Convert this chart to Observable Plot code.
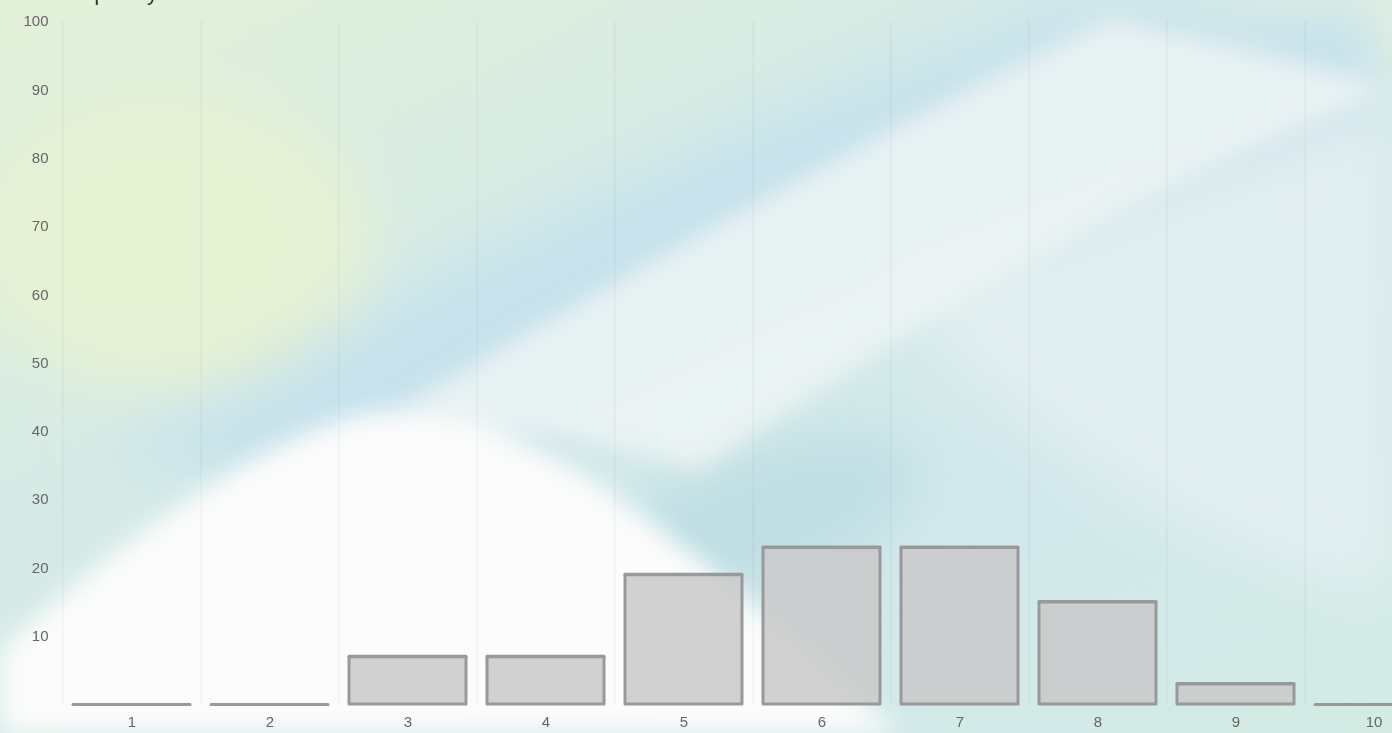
<!DOCTYPE html>
<html>
<head>
<meta charset="utf-8">
<script src="https://cdn.jsdelivr.net/npm/d3@7"></script>
<script src="https://cdn.jsdelivr.net/npm/@observablehq/plot@0.6"></script>
<style>
  html, body { margin: 0; padding: 0; width: 1392px; height: 733px; overflow: hidden; }
  body { position: relative; font-family: "Liberation Sans", Arial, sans-serif; background: #e0efe4; }
  #bg { position: absolute; left: 0; top: 0; width: 1392px; height: 733px; z-index: 0; }
  #chart { position: absolute; left: 0; top: 0; z-index: 1; }
  #title { position: absolute; left: 0; top: 0; z-index: 2; }
</style>
</head>
<body>
<svg id="bg" width="1392" height="733" viewBox="0 0 1392 733">
  <defs>
    <filter id="blur" x="-20%" y="-20%" width="140%" height="140%"><feGaussianBlur stdDeviation="30"/></filter>
    <filter id="blur2" x="-20%" y="-20%" width="140%" height="140%"><feGaussianBlur stdDeviation="12"/></filter>
    <linearGradient id="base" x1="0" y1="0" x2="1" y2="1">
      <stop offset="0" stop-color="#e3f1d8"/>
      <stop offset="0.35" stop-color="#d6ebe6"/>
      <stop offset="0.7" stop-color="#d2e8ec"/>
      <stop offset="1" stop-color="#d3ece4"/>
    </linearGradient>
  </defs>
  <rect width="1392" height="733" fill="url(#base)"/>
  <g filter="url(#blur)">
    <ellipse cx="170" cy="240" rx="200" ry="150" fill="#e6f2d4"/>
    <ellipse cx="1330" cy="30" rx="160" ry="60" fill="#eef6dc"/>
    <path d="M 100 460 C 450 260 800 80 1100 0 L 1392 0 L 1392 120 C 1000 200 700 380 450 500 Z" fill="#c6e2ec"/>
    <path d="M 1000 0 C 1150 80 1300 180 1392 260 L 1392 120 C 1300 60 1200 20 1150 0 Z" fill="#c9e3ec"/>
    <path d="M 900 300 C 1100 220 1300 140 1392 100 L 1392 600 C 1200 560 1000 420 900 300 Z" fill="#e2eff1"/>
    <ellipse cx="760" cy="520" rx="170" ry="70" fill="#bfdfe4" transform="rotate(-20 760 520)"/>
  </g>
  <g filter="url(#blur2)">
    <path d="M 0 650 C 200 470 330 410 400 410 C 560 420 700 560 900 733 L 0 733 Z" fill="#fbfcfb"/>
    <path d="M 380 420 C 650 260 900 120 1110 20 C 1200 40 1300 60 1392 90 C 1150 180 900 330 700 470 C 600 440 480 420 380 420 Z" fill="#eef5f4" opacity="0.85"/>
  </g>
</svg>
<svg id="title" width="400" height="20"><text x="54" y="0" font-family="Liberation Sans, Arial, sans-serif" font-size="22" fill="#333">Frequency</text></svg>
<div id="chart"></div>
<script>
const categories = ["1", "2", "3", "4", "5", "6", "7", "8", "9", "10"];
const frequency = [0, 0, 7, 7, 19, 23, 23, 15, 3, 0];
const yTicks = [10, 20, 30, 40, 50, 60, 70, 80, 90, 100];

const data = categories.map((c, i) => ({category: c, value: frequency[i]}));

const chart = Plot.plot({
  width: 1443,
  height: 733,
  marginLeft: 63,
  marginRight: 0,
  marginTop: 21,
  marginBottom: 29,
  style: {background: "transparent", fontFamily: "Liberation Sans, Arial, sans-serif", fontSize: "14px", color: "#666", maxWidth: "none", overflow: "visible"},
  x: {domain: categories, paddingInner: 0.15, paddingOuter: 0.075, label: null},
  y: {domain: [0, 100], label: null},
  marks: [
    Plot.gridY([0, ...yTicks], {stroke: "#000", strokeOpacity: 0.06, x1: 55}),
    Plot.tickX(categories, {x: d => d, dx: -69, y1: -1.2, y2: 100, stroke: "#000", strokeOpacity: 0.06, strokeWidth: 1}),
    Plot.barY(data, {x: "category", y: "value", fill: "#c9c9c9", fillOpacity: 0.85}),
    Plot.barY(data, {x: "category", y: "value", fill: "none", stroke: "#999", strokeWidth: 3, strokeLinejoin: "round"}),
    Plot.tickY(data, {x: "category", y: "value", stroke: "#999", strokeWidth: 3, strokeLinecap: "round"}),
    Plot.axisY(yTicks, {tickSize: 0, tickPadding: 15, fill: "#666", fontSize: 15}),
    Plot.axisX(categories, {tickSize: 0, tickPadding: 12, fill: "#666", fontSize: 15})
  ]
});
document.getElementById("chart").appendChild(chart);
</script>
</body>
</html>
